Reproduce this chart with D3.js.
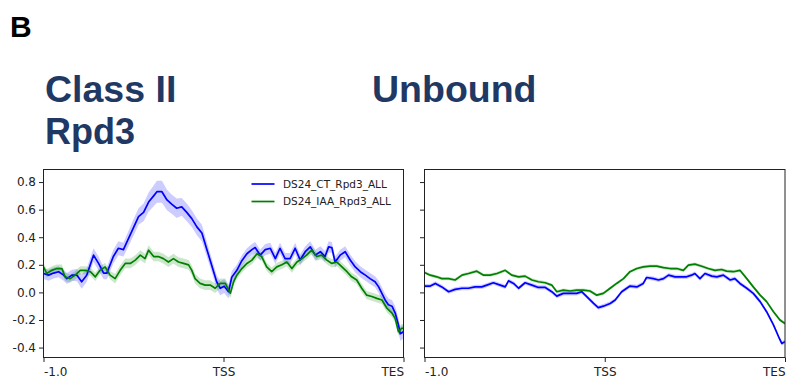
<!DOCTYPE html>
<html>
<head>
<meta charset="utf-8">
<script src="https://cdn.jsdelivr.net/npm/d3@7"></script>
<style>
  html, body { margin: 0; padding: 0; background: #fff; }
  svg { display: block; }
</style>
</head>
<body>
<svg id="chart" width="789" height="385"></svg>
<script>
// Rows are [bin position 0..100, mean signal, band half-width]
const ctClassII = [
  [0,0.137,0.04],[1.4,0.125,0.04],[2.8,0.14,0.04],[4.2,0.15,0.04],[5.6,0.125,0.04],[6.5,0.10,0.04],
  [7.9,0.125,0.04],[9.3,0.125,0.045],[10.6,0.077,0.05],[12.0,0.125,0.05],[13.9,0.27,0.05],[15.3,0.21,0.05],
  [16.7,0.14,0.045],[17.6,0.14,0.045],[19.4,0.26,0.05],[20.8,0.32,0.05],[22.2,0.31,0.05],[23.6,0.39,0.055],
  [25.0,0.47,0.06],[26.4,0.55,0.06],[27.8,0.58,0.065],[29.2,0.655,0.07],[30.6,0.70,0.075],[31.5,0.73,0.08],
  [32.9,0.73,0.08],[34.3,0.67,0.075],[35.6,0.64,0.07],[37.0,0.61,0.07],[38.4,0.62,0.065],[39.8,0.58,0.065],
  [41.2,0.535,0.06],[42.6,0.475,0.06],[44.0,0.43,0.06],[45.4,0.31,0.055],[46.8,0.19,0.05],[48.1,0.077,0.05],
  [49.1,0.03,0.05],[50.2,0.045,0.05],[51.4,0.005,0.05],[52.3,0.11,0.045],[53.7,0.16,0.04],[55.1,0.23,0.04],
  [56.5,0.28,0.04],[57.9,0.31,0.04],[58.8,0.325,0.04],[60.2,0.27,0.04],[61.6,0.31,0.04],[63.0,0.32,0.04],
  [64.4,0.245,0.04],[65.7,0.32,0.04],[67.1,0.245,0.04],[68.5,0.245,0.04],[69.9,0.32,0.04],[71.3,0.235,0.04],
  [72.7,0.295,0.04],[74.1,0.33,0.04],[75.5,0.27,0.04],[76.9,0.295,0.04],[78.2,0.26,0.04],[79.2,0.33,0.04],
  [80.1,0.325,0.04],[81.0,0.22,0.04],[82.4,0.27,0.04],[83.8,0.295,0.04],[85.2,0.235,0.04],[86.6,0.185,0.04],
  [88.0,0.15,0.04],[89.4,0.125,0.04],[90.7,0.10,0.04],[92.1,0.077,0.04],[93.1,0.04,0.045],[94.0,-0.007,0.045],
  [94.9,-0.055,0.045],[95.8,-0.09,0.045],[96.8,-0.10,0.045],[97.7,-0.15,0.05],[98.6,-0.236,0.05],
  [99.1,-0.30,0.05],[100,-0.285,0.05]
];

const iaaClassII = [
  [0,0.185,0.03],[0.9,0.137,0.03],[2.3,0.16,0.03],[3.7,0.173,0.03],[5.1,0.173,0.03],[6.0,0.113,0.03],
  [7.4,0.10,0.03],[8.8,0.125,0.03],[10.2,0.16,0.03],[11.6,0.16,0.03],[13.0,0.15,0.03],[14.4,0.113,0.03],
  [15.7,0.16,0.03],[17.1,0.185,0.03],[18.5,0.125,0.03],[19.9,0.10,0.035],[21.3,0.16,0.035],[22.7,0.21,0.035],
  [24.1,0.21,0.035],[25.5,0.234,0.035],[26.9,0.27,0.035],[28.2,0.245,0.035],[29.2,0.306,0.035],[30.6,0.26,0.035],
  [31.9,0.26,0.035],[33.3,0.245,0.035],[34.7,0.22,0.035],[36.1,0.245,0.035],[37.5,0.22,0.035],[38.9,0.21,0.035],
  [40.3,0.20,0.035],[41.2,0.16,0.035],[42.1,0.10,0.035],[43.5,0.065,0.035],[44.9,0.053,0.035],[46.3,0.053,0.035],
  [47.7,0.03,0.035],[49.1,0.065,0.035],[50.5,0.065,0.035],[51.9,-0.007,0.035],[52.8,0.077,0.03],[53.7,0.125,0.03],
  [55.1,0.173,0.03],[56.5,0.21,0.03],[57.9,0.234,0.03],[59.3,0.28,0.03],[60.6,0.26,0.03],[62.0,0.185,0.03],
  [63.4,0.15,0.03],[64.8,0.185,0.03],[66.2,0.20,0.03],[67.6,0.22,0.03],[69.0,0.173,0.03],[70.4,0.22,0.03],
  [71.8,0.245,0.03],[73.1,0.27,0.03],[74.5,0.306,0.03],[75.9,0.26,0.03],[77.3,0.27,0.03],[78.7,0.234,0.03],
  [80.1,0.21,0.03],[81.5,0.22,0.03],[82.9,0.185,0.03],[84.3,0.15,0.03],[85.6,0.113,0.03],[87.0,0.09,0.03],
  [88.4,0.03,0.03],[89.8,-0.02,0.03],[91.2,-0.03,0.03],[92.6,-0.043,0.03],[94.0,-0.055,0.03],[95.4,-0.115,0.03],
  [96.8,-0.15,0.03],[97.7,-0.19,0.03],[98.6,-0.285,0.03],[99.5,-0.26,0.03],[100,-0.26,0.03]
];

const ctUnbound = [
  [0,0.046,0.015],[1.6,0.046,0.015],[3.0,0.065,0.015],[4.8,0.04,0.015],[6.7,0.005,0.015],[8.5,0.022,0.015],
  [10.4,0.03,0.015],[12.2,0.03,0.015],[14.0,0.04,0.015],[15.9,0.04,0.015],[17.3,0.053,0.015],[19.1,0.07,0.015],
  [21.0,0.053,0.015],[22.4,0.04,0.015],[23.3,0.084,0.015],[24.7,0.065,0.015],[26.1,0.03,0.015],[27.9,0.07,0.015],
  [29.8,0.053,0.015],[31.6,0.036,0.015],[33.5,0.036,0.015],[35.3,0.005,0.015],[36.7,-0.027,0.015],[38.5,-0.007,0.015],
  [40.4,-0.007,0.015],[42.2,-0.007,0.015],[43.6,0.005,0.015],[45.0,-0.03,0.015],[46.9,-0.08,0.015],[48.2,-0.11,0.015],
  [49.6,-0.10,0.015],[51.5,-0.08,0.015],[52.9,-0.055,0.015],[54.7,0.005,0.015],[56.1,0.03,0.015],[57.0,0.046,0.015],
  [58.9,0.04,0.015],[60.7,0.065,0.015],[61.6,0.108,0.015],[63.5,0.10,0.015],[64.9,0.09,0.015],[66.3,0.10,0.015],
  [67.7,0.125,0.015],[69.5,0.113,0.015],[71.3,0.113,0.015],[72.7,0.113,0.015],[74.1,0.125,0.015],[75.0,0.137,0.015],
  [76.4,0.10,0.015],[77.8,0.137,0.015],[79.7,0.118,0.015],[81.1,0.113,0.015],[82.9,0.125,0.015],[84.8,0.09,0.015],
  [86.1,0.10,0.015],[87.5,0.065,0.015],[89.4,0.03,0.015],[91.2,-0.007,0.015],[93.1,-0.067,0.015],[94.9,-0.14,0.015],
  [96.8,-0.236,0.015],[98.2,-0.32,0.015],[99.1,-0.37,0.015],[100,-0.357,0.015]
];

const iaaUnbound = [
  [0,0.145,0.012],[1.6,0.125,0.012],[3.4,0.113,0.012],[4.8,0.10,0.012],[6.7,0.10,0.012],[8.5,0.09,0.012],
  [10.4,0.125,0.012],[12.2,0.137,0.012],[14.5,0.154,0.012],[16.4,0.125,0.012],[18.2,0.125,0.012],[20.1,0.137,0.012],
  [22.4,0.16,0.012],[24.2,0.125,0.012],[26.1,0.113,0.012],[27.9,0.118,0.012],[29.8,0.09,0.012],[31.6,0.077,0.012],
  [33.5,0.07,0.012],[35.3,0.053,0.012],[36.7,0.005,0.012],[38.5,0.017,0.012],[40.4,0.01,0.012],[42.2,0.017,0.012],
  [44.1,0.017,0.012],[45.9,0.01,0.012],[47.8,-0.02,0.012],[49.6,-0.007,0.012],[51.5,0.03,0.012],[53.3,0.065,0.012],
  [55.2,0.10,0.012],[57.0,0.15,0.012],[58.9,0.173,0.012],[60.7,0.185,0.012],[62.6,0.19,0.012],[64.4,0.19,0.012],
  [66.3,0.18,0.012],[68.1,0.173,0.012],[70.0,0.173,0.012],[71.8,0.16,0.012],[73.2,0.198,0.012],[75.0,0.205,0.012],
  [76.9,0.19,0.012],[78.7,0.173,0.012],[80.6,0.16,0.012],[82.4,0.166,0.012],[83.8,0.154,0.012],[85.7,0.15,0.012],
  [87.5,0.16,0.012],[89.4,0.10,0.012],[91.2,0.04,0.012],[93.1,-0.02,0.012],[94.9,-0.067,0.012],[96.8,-0.14,0.012],
  [98.6,-0.20,0.012],[100,-0.225,0.012]
];

const seriesNames = ["DS24_CT_Rpd3_ALL", "DS24_IAA_Rpd3_ALL"];
const seriesColors = ["#0000ff", "#008000"];
const yTickValues = [-0.4, -0.2, 0.0, 0.2, 0.4, 0.6, 0.8];
const xTickValues = [0, 50, 100];
const xTickLabels = ["-1.0", "TSS", "TES"];

const svg = d3.select("#chart");

// Panel heading and group titles
svg.append("text").attr("x", 10).attr("y", 37)
  .attr("font-family", "Liberation Sans, Arial, sans-serif").attr("font-weight", "bold")
  .attr("font-size", 30).attr("fill", "#000").text("B");

const titleColor = "#1f3864";
const titleFont = "Liberation Sans, Arial, sans-serif";
[["Class II", 45, 102, 37.5], ["Rpd3", 45, 144, 36], ["Unbound", 372, 102, 37.5]].forEach(([t, x, y, fs]) => {
  svg.append("text").attr("x", x).attr("y", y)
    .attr("font-family", titleFont).attr("font-weight", "bold")
    .attr("font-size", fs).attr("fill", titleColor).text(t);
});

const plotTop = 169.5, plotBottom = 357.5;
const y = d3.scaleLinear().domain([-0.472, 0.891]).range([plotBottom, plotTop]);

const panels = [
  { left: 43.5, right: 403.5, data: [ctClassII, iaaClassII], yLabels: true, legend: true },
  { left: 424.5, right: 785, data: [ctUnbound, iaaUnbound], yLabels: false, legend: false }
];

const tickFont = "DejaVu Sans, sans-serif";

panels.forEach(p => {
  const x = d3.scaleLinear().domain([0, 100]).range([p.left, p.right]);
  const g = svg.append("g");

  const clipId = "clip" + Math.round(p.left);
  svg.append("clipPath").attr("id", clipId).append("rect")
    .attr("x", p.left).attr("y", plotTop).attr("width", p.right - p.left).attr("height", plotBottom - plotTop);

  const plot = g.append("g").attr("clip-path", `url(#${clipId})`);

  // Standard-error bands behind the mean profiles
  p.data.forEach((rows, i) => {
    const area = d3.area()
      .x(d => x(d[0]))
      .y0(d => y(d[1] - d[2]))
      .y1(d => y(d[1] + d[2]));
    plot.append("path").attr("d", area(rows))
      .attr("fill", seriesColors[i]).attr("fill-opacity", 0.2).attr("stroke", "none");
  });
  p.data.forEach((rows, i) => {
    const line = d3.line().x(d => x(d[0])).y(d => y(d[1]));
    plot.append("path").attr("d", line(rows))
      .attr("fill", "none").attr("stroke", seriesColors[i])
      .attr("stroke-width", 1.7).attr("stroke-linejoin", "round");
  });

  // Y axis
  const yAxis = d3.axisLeft(y).tickValues(yTickValues).tickSize(4.5).tickPadding(3)
    .tickFormat(p.yLabels ? d3.format(".1f") : () => "");
  const ya = g.append("g").attr("transform", `translate(${p.left},0)`).call(yAxis);
  ya.select(".domain").remove();
  ya.selectAll(".tick line").attr("stroke", "#222");
  ya.selectAll(".tick text").attr("font-family", tickFont).attr("font-size", 12).attr("fill", "#222")
    .text(d => p.yLabels ? d3.format(".1f")(d).replace("−", "-") : "");

  // X axis
  const xAxis = d3.axisBottom(x).tickValues(xTickValues).tickSize(4.5).tickPadding(5)
    .tickFormat((d, i) => xTickLabels[i]);
  const xa = g.append("g").attr("transform", `translate(0,${plotBottom})`).call(xAxis);
  xa.select(".domain").remove();
  xa.selectAll(".tick line").attr("stroke", "#222");
  xa.selectAll(".tick text").attr("font-family", tickFont).attr("font-size", 12).attr("fill", "#222")
    .attr("text-anchor", (d, i) => i === 0 ? "start" : (i === xTickValues.length - 1 ? "end" : "middle"));

  // Frame
  g.append("rect").attr("x", p.left).attr("y", plotTop)
    .attr("width", p.right - p.left).attr("height", plotBottom - plotTop)
    .attr("fill", "none").attr("stroke", "#222").attr("stroke-width", 1);

  if (p.legend) {
    const lg = g.append("g");
    seriesNames.forEach((name, i) => {
      const ly = 184 + i * 17.5;
      lg.append("line").attr("x1", 251.5).attr("x2", 274.5).attr("y1", ly).attr("y2", ly)
        .attr("stroke", seriesColors[i]).attr("stroke-width", 1.7);
      lg.append("text").attr("x", 283).attr("y", ly + 3.8)
        .attr("font-family", tickFont).attr("font-size", 10.5).attr("fill", "#222").text(name);
    });
  }
});
</script>
</body>
</html>
